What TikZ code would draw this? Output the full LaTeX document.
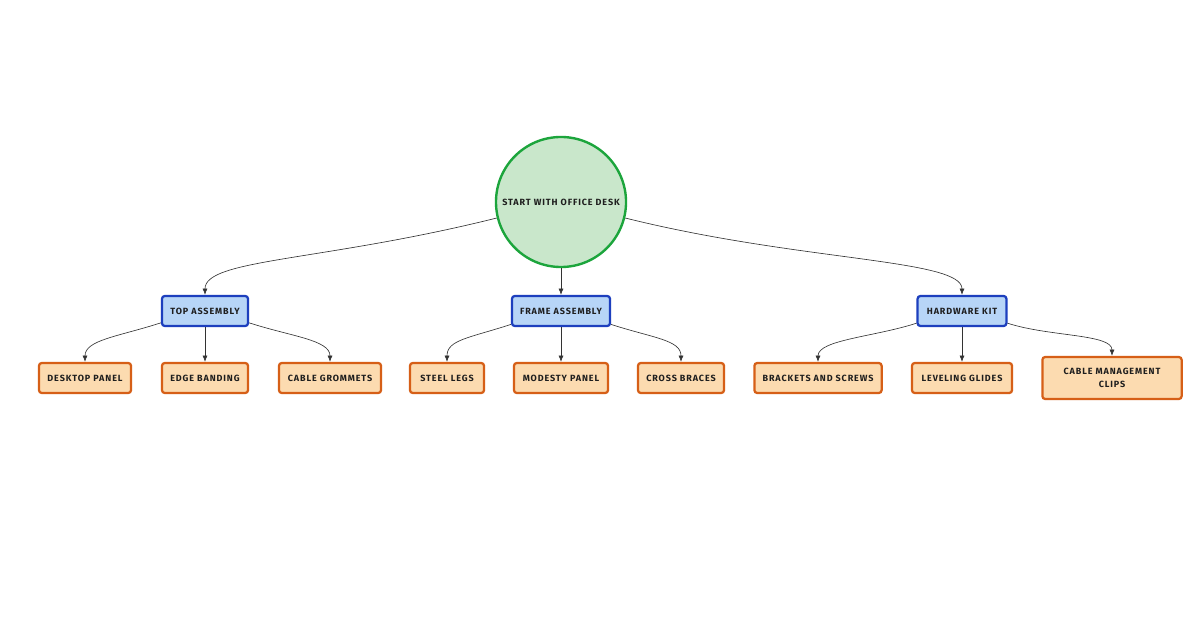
\documentclass[tikz,border=0pt]{standalone}
\usepackage{fontspec}
\setmainfont{Fira Sans}[LetterSpace=10]
\usetikzlibrary{arrows.meta}

\definecolor{rootfill}{HTML}{C9E7CB}
\definecolor{rootdraw}{HTML}{1CA53C}
\definecolor{groupfill}{HTML}{B7D5F7}
\definecolor{groupdraw}{HTML}{1D3FBE}
\definecolor{partfill}{HTML}{FCDBB0}
\definecolor{partdraw}{HTML}{D65F17}
\definecolor{labeltext}{HTML}{1E1E1E}
\definecolor{linkcol}{HTML}{333333}

\tikzset{
  rootnode/.style={circle, draw=rootdraw, fill=rootfill, line width=1.7pt,
    minimum size=3.25cm, inner sep=0pt},
  groupbox/.style={rectangle, rounded corners=2pt, draw=groupdraw, fill=groupfill,
    line width=1.6pt, minimum height=0.75cm, inner xsep=0.2cm},
  partbox/.style={rectangle, rounded corners=2pt, draw=partdraw, fill=partfill,
    line width=1.6pt, minimum height=0.75cm, inner xsep=0.2cm},
  link/.style={draw=linkcol, line width=0.45pt, -{Latex[length=4.5pt,width=3.6pt]}},
  farlink/.style={link, out distance=4.5cm, in distance=0.9cm},
  nearlink/.style={link, out distance=1.1cm, in distance=0.55cm},
}

\begin{document}
\begin{tikzpicture}[x=0.025cm, y=0.025cm,
    every node/.style={font=\fontsize{6.4}{8.8}\selectfont\bfseries, text=labeltext}]
  \useasboundingbox[fill=white] (0,0) rectangle (1200,-628);

  % root
  \node[rootnode] (desk) at (561,-202) {START WITH OFFICE DESK};

  % assemblies
  \node[groupbox, minimum width=2.15cm] (top) at (205,-311) {TOP ASSEMBLY};
  \node[groupbox, minimum width=2.45cm] (frame) at (561,-311) {FRAME ASSEMBLY};
  \node[groupbox, minimum width=2.22cm] (hardware) at (962,-311) {HARDWARE KIT};

  % parts
  \node[partbox, minimum width=2.30cm] (panel) at (85,-378) {DESKTOP PANEL};
  \node[partbox, minimum width=2.15cm] (banding) at (205,-378) {EDGE BANDING};
  \node[partbox, minimum width=2.55cm] (grommets) at (330,-378) {CABLE GROMMETS};
  \node[partbox, minimum width=1.85cm] (legs) at (447,-378) {STEEL LEGS};
  \node[partbox, minimum width=2.35cm] (modesty) at (561,-378) {MODESTY PANEL};
  \node[partbox, minimum width=2.15cm] (braces) at (681,-378) {CROSS BRACES};
  \node[partbox, minimum width=3.18cm] (brackets) at (818,-378) {BRACKETS AND SCREWS};
  \node[partbox, minimum width=2.50cm] (glides) at (962,-378) {LEVELING GLIDES};
  \node[partbox, minimum width=3.48cm, minimum height=1.05cm, align=center] (clips)
    at (1112,-378) {CABLE MANAGEMENT\\CLIPS};

  % links
  \draw[farlink] (desk) to[out=194, in=90] (top.north);
  \draw[link] (desk.south) -- (frame.north);
  \draw[farlink] (desk) to[out=-14, in=90] (hardware.north);

  \draw[nearlink] (top.195) to[out=198, in=90] (panel.north);
  \draw[link] (top.south) -- (banding.north);
  \draw[nearlink] (top.-15) to[out=-18, in=90] (grommets.north);

  \draw[nearlink] (frame.195) to[out=198, in=90] (legs.north);
  \draw[link] (frame.south) -- (modesty.north);
  \draw[nearlink] (frame.-15) to[out=-18, in=90] (braces.north);

  \draw[nearlink] (hardware.195) to[out=198, in=90] (brackets.north);
  \draw[link] (hardware.south) -- (glides.north);
  \draw[nearlink] (hardware.-15) to[out=-18, in=90] (clips.north);
\end{tikzpicture}
\end{document}
